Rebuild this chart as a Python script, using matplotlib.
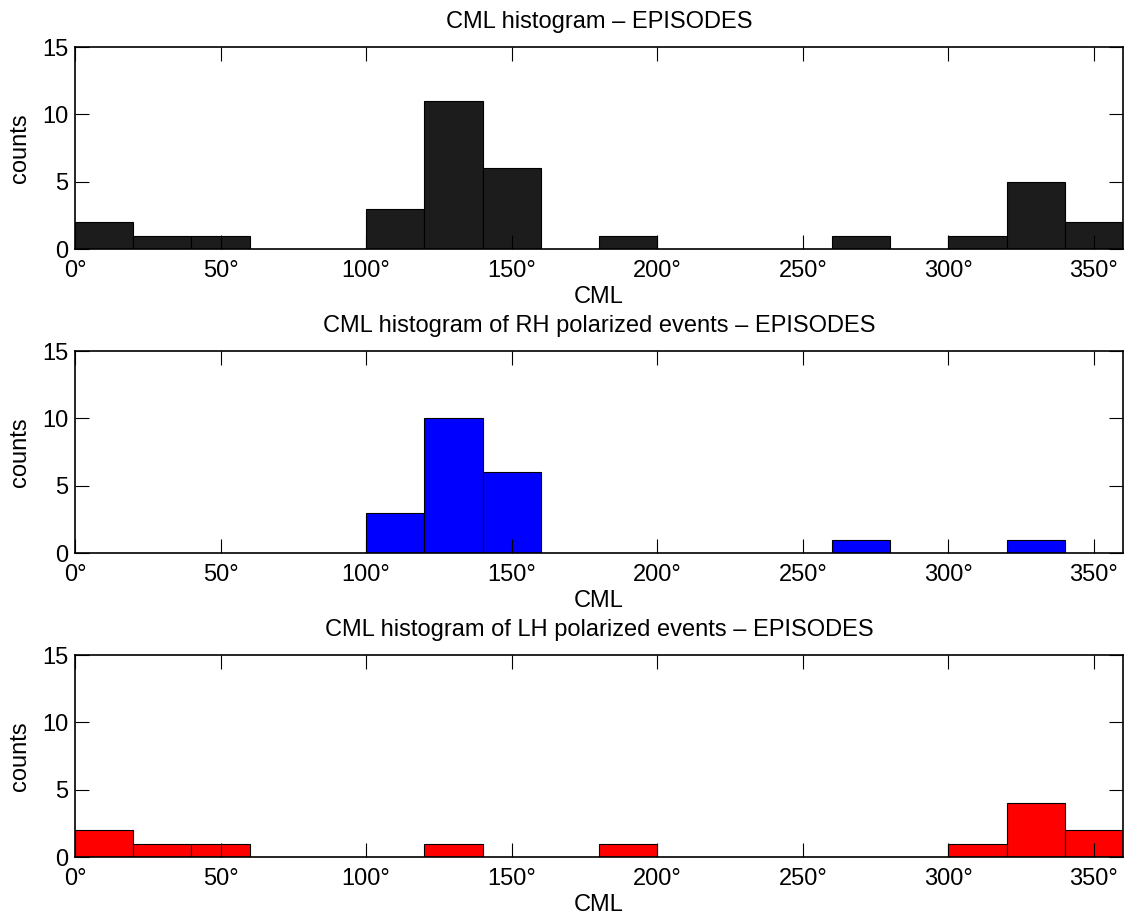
import matplotlib

matplotlib.use("Agg")
import matplotlib.pyplot as plt
import numpy as np

plt.rcParams["font.family"] = ["Liberation Sans", "DejaVu Sans"]

# bin edges (degrees CML), 20 degree bins
bin_edges = list(range(0, 361, 20))

counts_all = [2, 1, 1, 0, 0, 3, 11, 6, 0, 1, 0, 0, 0, 1, 0, 1, 5, 2]
counts_rh = [0, 0, 0, 0, 0, 3, 10, 6, 0, 0, 0, 0, 0, 1, 0, 0, 1, 0]
counts_lh = [2, 1, 1, 0, 0, 0, 1, 0, 0, 1, 0, 0, 0, 0, 0, 1, 4, 2]

titles = [
    "CML histogram \u2013 EPISODES",
    "CML histogram of RH polarized events \u2013 EPISODES",
    "CML histogram of LH polarized events \u2013 EPISODES",
]
colors = ["#1c1c1c", "#0000ff", "#ff0000"]
x_ticks = [0, 50, 100, 150, 200, 250, 300, 350]
y_ticks = [0, 5, 10, 15]

fig = plt.figure(figsize=(11.29, 9.17), dpi=100)
left, width, height = 75 / 1129, 1048 / 1129, 202 / 917
bottoms = [1 - 249 / 917, 1 - 553 / 917, 1 - 857 / 917]

edges = np.array(bin_edges)
for bottom, counts, title, color in zip(bottoms, [counts_all, counts_rh, counts_lh], titles, colors):
    ax = fig.add_axes([left, bottom, width, height])
    vals = np.array(counts)
    keep = vals > 0
    ax.bar(edges[:-1][keep], vals[keep], width=np.diff(edges)[keep], align="edge",
           color=color, edgecolor="black", linewidth=0.8)
    ax.set_xlim(0, 360)
    ax.set_ylim(0, 15)
    ax.set_xticks(x_ticks)
    ax.set_xticklabels([f"{t}\u00b0" for t in x_ticks])
    ax.set_yticks(y_ticks)
    ax.tick_params(direction="in", length=10, width=0.8, top=True, right=True,
                   labelsize=17)
    ax.tick_params(axis="x", pad=8)
    ax.tick_params(axis="y", pad=5)
    for sp in ax.spines.values():
        sp.set_linewidth(1.2)
    ax.set_xlabel("CML", fontsize=17, labelpad=3)
    ax.set_ylabel("counts", fontsize=17, labelpad=8)
    ax.set_title(title, fontsize=17, pad=14)

fig.savefig("out.png", dpi=100)
